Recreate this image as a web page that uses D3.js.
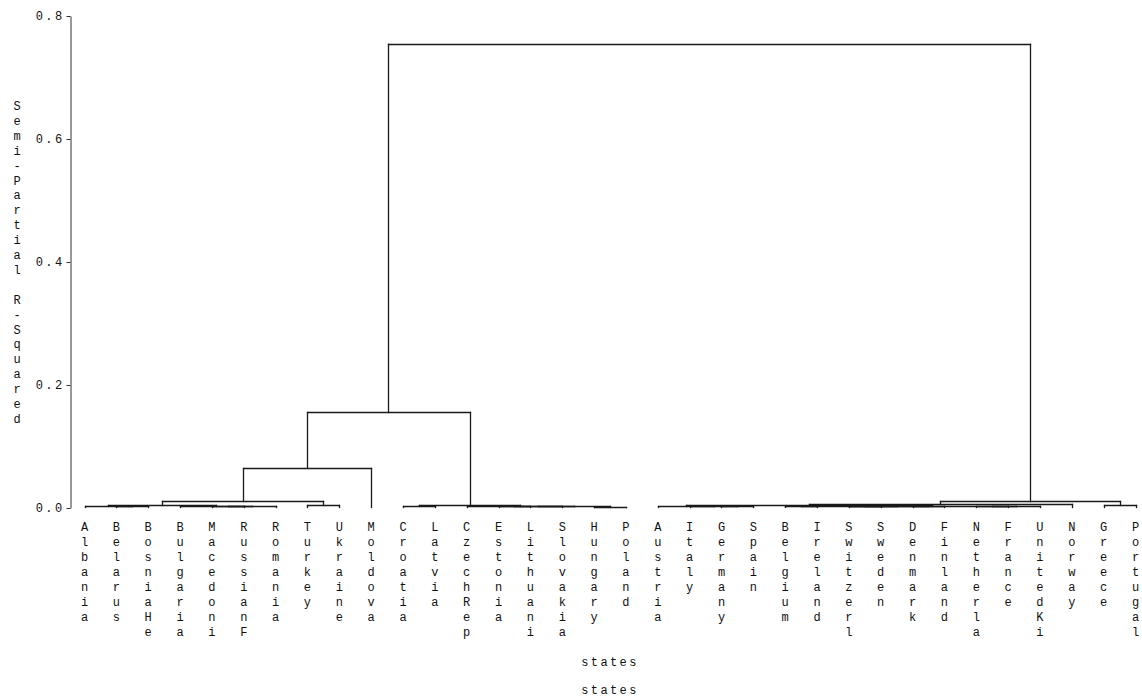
<!DOCTYPE html>
<html>
<head>
<meta charset="utf-8">
<script src="https://cdn.jsdelivr.net/npm/d3@7"></script>
<style>
  html, body { margin: 0; padding: 0; background: #fff; }
  svg { display: block; }
  text { font-family: "Liberation Mono", "DejaVu Sans Mono", monospace; fill: #111; }
</style>
</head>
<body>
<svg id="chart" width="1142" height="698"></svg>
<script>
// ---- data ----
const states = ["Albania","Belarus","BosniaHe","Bulgaria","Macedoni","RussianF","Romania",
  "Turkey","Ukraine","Moldova","Croatia","Latvia","CzechRep","Estonia","Lithuani","Slovakia",
  "Hungary","Poland","Austria","Italy","Germany","Spain","Belgium","Ireland","Switzerl",
  "Sweden","Denmark","Finland","Netherla","France","UnitedKi","Norway","Greece","Portugal"];

// cluster history: [left, right, semi-partial R-squared]; "#k" refers to merge k
const merges = [
  ["Belarus","BosniaHe",0.0010],   // #0
  ["Macedoni","RussianF",0.0010],  // #1
  ["Albania","#0",0.0018],         // #2
  ["#1","Romania",0.0018],         // #3
  ["Bulgaria","#3",0.0022],        // #4
  ["#2","#4",0.0030],              // #5
  ["Turkey","Ukraine",0.0030],     // #6
  ["#5","#6",0.0098],              // #7
  ["#7","Moldova",0.0634],         // #8
  ["Croatia","Latvia",0.0010],     // #9
  ["Estonia","Lithuani",0.0010],   // #10
  ["#10","Slovakia",0.0014],       // #11
  ["Hungary","Poland",0.0005],     // #12
  ["#11","#12",0.0016],            // #13
  ["CzechRep","#13",0.0018],       // #14
  ["#9","#14",0.0025],             // #15
  ["#8","#15",0.1545],             // #16
  ["Germany","Spain",0.0010],      // #17
  ["Italy","#17",0.0014],          // #18
  ["Austria","#18",0.0018],        // #19
  ["Belgium","Ireland",0.0010],    // #20
  ["Switzerl","Sweden",0.0010],    // #21
  ["Denmark","Finland",0.0010],    // #22
  ["#21","#22",0.0014],            // #23
  ["#20","#23",0.0020],            // #24
  ["Netherla","France",0.0010],    // #25
  ["#25","UnitedKi",0.0014],       // #26
  ["#24","#26",0.0022],            // #27
  ["#19","#27",0.0028],            // #28
  ["#28","Norway",0.0050],         // #29
  ["Greece","Portugal",0.0025],    // #30
  ["#29","#30",0.0098],            // #31
  ["#16","#31",0.7530]             // #32
];

const yTicks = [0, 0.2, 0.4, 0.6, 0.8];
const yTitle = "Semi-Partial R-Squared";
const xTitle = "states";

// ---- scales ----
const svg = d3.select("#chart");
const x = d3.scalePoint().domain(states).range([84.5, 1135.5]).padding(0);
const y = d3.scaleLinear().domain([0, 0.8]).range([508, 16]);

// ---- axis ----
const axis = d3.axisLeft(y).tickValues(yTicks).tickFormat(d3.format(".1f"))
  .tickSize(4).tickSizeOuter(0).tickPadding(2);
const gAxis = svg.append("g").attr("transform", "translate(70.5,0)").call(axis);
gAxis.select(".domain").attr("stroke", "#333");
gAxis.selectAll(".tick line").attr("stroke", "#333");
gAxis.selectAll(".tick text")
  .style("font-family", '"Liberation Mono", monospace')
  .style("font-size", "12px")
  .style("letter-spacing", "2.4px")
  .attr("fill", "#111");

// y title: stacked characters
svg.append("g").selectAll("text")
  .data(yTitle.split(""))
  .join("text")
  .attr("x", 17)
  .attr("y", (d, i) => 110 + i * 14.9)
  .attr("text-anchor", "middle")
  .style("font-size", "12px")
  .text(d => d);

// ---- dendrogram ----
function nodeOf(ref) {
  if (ref.startsWith("#")) {
    const m = merges[+ref.slice(1)];
    const a = nodeOf(m[0]), b = nodeOf(m[1]);
    return { x: (a.x + b.x) / 2, h: m[2], a, b };
  }
  return { x: x(ref), h: 0 };
}
const root = nodeOf("#" + (merges.length - 1));
const segs = [];
(function walk(n) {
  if (!n.a) return;
  segs.push([n.a.x, y(n.h), n.b.x, y(n.h)]);
  segs.push([n.a.x, y(n.a.h), n.a.x, y(n.h)]);
  segs.push([n.b.x, y(n.b.h), n.b.x, y(n.h)]);
  walk(n.a); walk(n.b);
})(root);

svg.append("g").selectAll("line")
  .data(segs)
  .join("line")
  .attr("x1", d => Math.round(d[0]) + 0.5)
  .attr("x2", d => Math.round(d[2]) + 0.5)
  .attr("y1", d => Math.round(d[1]) - 0.5)
  .attr("y2", d => Math.round(d[3]) - 0.5)
  .attr("stroke", "#1a1a1a")
  .attr("stroke-width", 1.3)
  .attr("stroke-linecap", "square");

// leaf labels: stacked characters
const leafG = svg.append("g").selectAll("g")
  .data(states)
  .join("g")
  .attr("transform", d => `translate(${x(d)},0)`);
leafG.selectAll("text")
  .data(d => d.split(""))
  .join("text")
  .attr("x", 0)
  .attr("y", (d, i) => 531 + i * 15)
  .attr("text-anchor", "middle")
  .style("font-size", "12px")
  .text(d => d);

// x titles
[666, 694].forEach(yy => {
  svg.append("text")
    .attr("x", 610)
    .attr("y", yy)
    .attr("text-anchor", "middle")
    .style("font-size", "12px")
    .style("letter-spacing", "2.4px")
    .text(xTitle);
});
</script>
</body>
</html>
